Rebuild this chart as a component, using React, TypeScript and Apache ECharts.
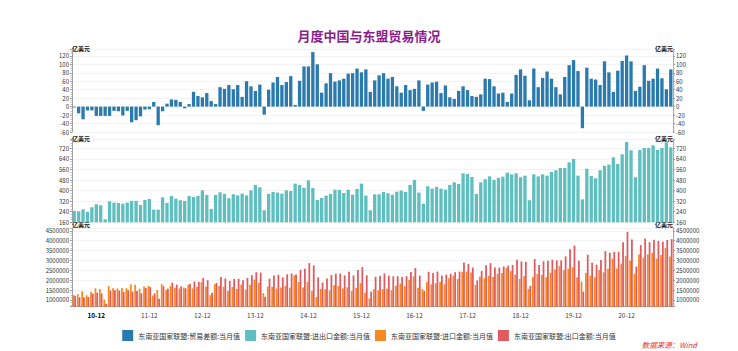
import React, { useEffect, useRef } from "react";
import * as echarts from "echarts";

// Months 2010-07 .. 2021-10 (136 months), labelled "YY-MM"
const categories: string[] = [];
for (let i = 0; i < 136; i++) {
  const y = 10 + Math.floor((6 + i) / 12);
  const m = ((6 + i) % 12) + 1;
  categories.push(`${y}-${String(m).padStart(2, "0")}`);
}

const yTicksTop = { min: -60, max: 135, interval: 20 };
const yTicksMid = { min: 160, max: 787, interval: 80 };
const yTicksBot = { min: 660000, max: 4640000, step: 500000 };

// 东南亚国家联盟:贸易差额:当月值 (亿美元)
const balance = [
  -2, -16, -30, -9, -9, -22, -22, -22, -22, -10, -11, -21, -10, -37, -32, -23, -7, -6, 11, -44,
  -11, 7, 17, 16, 11, -4, 6, 35, 25, 22, 32, 13, 6, 46, 42, 51, 41, 51, 23, 60,
  48, 37, 52, -19, 40, 57, 70, 51, 58, 72, 4, 61, 95, 95, 129, 100, 33, 55, 79, 59,
  62, 66, 78, 79, 90, 81, 88, 35, 62, 74, 79, 66, 70, 48, 33, 51, 39, 42, 62, -10,
  52, 57, 59, 32, 50, 22, 18, 37, 48, 39, 25, 23, 29, 66, 65, 48, 31, 33, 11, 31,
  75, 88, 73, 15, 90, 46, 68, 83, 66, 46, 29, 70, 98, 110, 84, -51, 92, 66, 64, 51,
  107, 81, 35, 85, 108, 121, 107, 37, 47, 98, 61, 66, 90, 67, 41, 88,
];

// 东南亚国家联盟:进出口金额:当月值 (亿美元)
const total = [
  246, 243, 258, 238, 274, 296, 289, 183, 319, 309, 306, 301, 309, 322, 322, 291, 329, 337, 256, 256,
  349, 306, 359, 339, 327, 322, 359, 352, 359, 402, 367, 261, 367, 387, 375, 342, 372, 364, 377, 364,
  402, 443, 425, 251, 375, 390, 385, 377, 402, 397, 453, 443, 422, 478, 420, 329, 344, 362, 375, 407,
  405, 382, 407, 369, 412, 453, 362, 251, 372, 372, 390, 380, 369, 392, 400, 390, 443, 481, 385, 301,
  433, 415, 428, 415, 407, 443, 463, 450, 531, 526, 503, 375, 463, 486, 508, 481, 496, 506, 536, 523,
  531, 501, 513, 327, 523, 508, 523, 513, 541, 554, 571, 571, 614, 640, 513, 334, 566, 511, 493, 554,
  587, 597, 652, 602, 675, 768, 705, 501, 708, 723, 723, 743, 708, 723, 766, 728,
];

// 东南亚国家联盟:进口金额:当月值
const importVals = [
  1240000, 1295000, 1440000, 1235000, 1415000, 1590000, 1555000, 1025000, 1705000, 1595000,
  1585000, 1610000, 1595000, 1795000, 1770000, 1570000, 1680000, 1715000, 1225000, 1500000,
  1800000, 1495000, 1710000, 1615000, 1580000, 1630000, 1765000, 1585000, 1670000, 1900000,
  1675000, 1240000, 1805000, 1705000, 1665000, 1455000, 1655000, 1565000, 1770000, 1520000,
  1770000, 2030000, 1865000, 1350000, 1675000, 1665000, 1575000, 1630000, 1720000, 1625000,
  2245000, 1910000, 1635000, 1915000, 1455000, 1145000, 1555000, 1535000, 1480000, 1740000,
  1715000, 1580000, 1645000, 1450000, 1610000, 1860000, 1370000, 1080000, 1550000, 1490000,
  1555000, 1570000, 1495000, 1720000, 1835000, 1695000, 2020000, 2195000, 1615000, 1555000,
  1905000, 1790000, 1845000, 1915000, 1785000, 2105000, 2225000, 2065000, 2415000, 2435000,
  2390000, 1760000, 2170000, 2100000, 2215000, 2165000, 2325000, 2365000, 2625000, 2460000,
  2280000, 2065000, 2200000, 1560000, 2165000, 2310000, 2275000, 2150000, 2375000, 2540000,
  2710000, 2505000, 2580000, 2650000, 2145000, 1925000, 2370000, 2225000, 2145000, 2515000,
  2400000, 2580000, 3085000, 2585000, 2835000, 3235000, 2990000, 2320000, 3305000, 3125000,
  3310000, 3385000, 3090000, 3280000, 3625000, 3200000,
];

// 东南亚国家联盟:出口金额:当月值
const exportVals = [
  1220000, 1135000, 1140000, 1145000, 1325000, 1370000, 1335000, 805000, 1485000, 1495000,
  1475000, 1400000, 1495000, 1425000, 1450000, 1340000, 1610000, 1655000, 1335000, 1060000,
  1690000, 1565000, 1880000, 1775000, 1690000, 1590000, 1825000, 1935000, 1920000, 2120000,
  1995000, 1370000, 1865000, 2165000, 2085000, 1965000, 2065000, 2075000, 2000000, 2120000,
  2250000, 2400000, 2385000, 1160000, 2075000, 2235000, 2275000, 2140000, 2300000, 2345000,
  2285000, 2520000, 2585000, 2865000, 2745000, 2145000, 1885000, 2085000, 2270000, 2330000,
  2335000, 2240000, 2425000, 2240000, 2510000, 2670000, 2250000, 1430000, 2170000, 2230000,
  2345000, 2230000, 2195000, 2200000, 2165000, 2205000, 2410000, 2615000, 2235000, 1455000,
  2425000, 2360000, 2435000, 2235000, 2285000, 2325000, 2405000, 2435000, 2895000, 2825000,
  2640000, 1990000, 2460000, 2760000, 2865000, 2645000, 2635000, 2695000, 2735000, 2770000,
  3030000, 2945000, 2930000, 1710000, 3065000, 2770000, 2955000, 2980000, 3035000, 3000000,
  3000000, 3205000, 3560000, 3750000, 2985000, 1415000, 3290000, 2885000, 2785000, 3025000,
  3470000, 3390000, 3435000, 3435000, 3915000, 4445000, 4060000, 2690000, 3775000, 4105000,
  3920000, 4045000, 3990000, 3950000, 4035000, 4080000,
];

const seriesNames = [
  "东南亚国家联盟:贸易差额:当月值",
  "东南亚国家联盟:进出口金额:当月值",
  "东南亚国家联盟:进口金额:当月值",
  "东南亚国家联盟:出口金额:当月值",
];
const colors = ["#2a7aad", "#5fbfbe", "#f7891f", "#e05a5f"];
const FONT = "'Noto Sans CJK SC', 'Noto Sans', sans-serif";

function yAxis(gridIndex: number, position: "left" | "right", extra: any) {
  return {
    type: "value",
    gridIndex,
    position,
    name: "亿美元",
    nameLocation: "end",
    nameGap: 1,
    nameTextStyle: {
      fontSize: 6,
      color: "#111",
      fontWeight: "bold",
      align: position === "left" ? "left" : "right",
      verticalAlign: "middle",
      fontFamily: FONT,
    },
    axisLine: { show: true, lineStyle: { color: "#a0a0a0", width: 1 } },
    axisTick: { show: true, length: 2, lineStyle: { color: "#a0a0a0" } },
    minorTick: { show: true, splitNumber: 4, length: 1.5, lineStyle: { color: "#c0c0c0" } },
    axisLabel: {
      fontSize: 6,
      color: "#333",
      margin: 3,
      showMaxLabel: false,
      fontFamily: FONT,
      formatter: (v: number) => String(v),
    },
    splitLine: { show: position === "left", lineStyle: { color: "#f3f3f3" } },
    ...extra,
  };
}

function xAxis(gridIndex: number, showLabels: boolean) {
  return {
    type: "category",
    gridIndex,
    data: categories,
    boundaryGap: true,
    axisLine: { show: showLabels, lineStyle: { color: "#a0a0a0" } },
    axisTick: { show: false },
    axisLabel: {
      show: showLabels,
      interval: (_i: number, v: string) => v.endsWith("-12"),
      fontSize: 6.5,
      color: "#444",
      margin: 5,
      fontFamily: FONT,
      formatter: (v: string) => (v === "10-12" ? `{b|${v}}` : v),
      rich: { b: { fontSize: 6.5, fontWeight: "bold", color: "#000", fontFamily: FONT } },
    },
    splitLine: { show: false },
  };
}

const botLabel = {
  fontSize: 6,
  color: "#333",
  margin: 3,
  showMaxLabel: false,
  showMinLabel: false,
  fontFamily: FONT,
  formatter: (v: number) => String(v),
};

export default function App() {
  const ref = useRef<HTMLDivElement>(null);
  useEffect(() => {
    document.body.style.margin = "0";
    const chart = echarts.init(ref.current!, null, { renderer: "svg" });
    chart.setOption({
      animation: false,
      backgroundColor: "#ffffff",
      textStyle: { fontFamily: FONT },
      color: colors,
      title: {
        text: "月度中国与东盟贸易情况",
        left: "center",
        top: 24,
        textStyle: { color: "#8b1d8e", fontSize: 13, fontWeight: "bold", fontFamily: FONT },
      },
      grid: [
        { left: 72, right: 65, top: 49.5, height: 82.5 },
        { left: 72, right: 65, top: 139.5, height: 82.8 },
        { left: 72, right: 65, top: 228, height: 78.7 },
      ],
      xAxis: [xAxis(0, false), xAxis(1, false), xAxis(2, true)],
      yAxis: [
        yAxis(0, "left", { ...yTicksTop }),
        yAxis(0, "right", { ...yTicksTop }),
        yAxis(1, "left", { ...yTicksMid }),
        yAxis(1, "right", { ...yTicksMid }),
        yAxis(2, "left", {
          min: yTicksBot.min,
          max: yTicksBot.max,
          minInterval: yTicksBot.step,
          maxInterval: yTicksBot.step,
          axisLabel: botLabel,
        }),
        yAxis(2, "right", {
          min: yTicksBot.min,
          max: yTicksBot.max,
          minInterval: yTicksBot.step,
          maxInterval: yTicksBot.step,
          axisLabel: botLabel,
        }),
      ],
      legend: {
        data: seriesNames,
        left: "center",
        top: 325,
        icon: "rect",
        itemWidth: 11,
        itemHeight: 11,
        itemGap: 5,
        textStyle: { fontSize: 7, color: "#333", fontFamily: FONT },
      },
      graphic: [
        {
          type: "text",
          right: 41,
          top: 341,
          style: {
            text: "数据来源：Wind",
            fill: "#e8302f",
            fontSize: 7.5,
            fontStyle: "italic",
            fontFamily: FONT,
          },
        },
      ],
      series: [
        {
          name: seriesNames[0],
          type: "bar",
          xAxisIndex: 0,
          yAxisIndex: 0,
          data: balance,
          barCategoryGap: "25%",
          itemStyle: { color: colors[0] },
        },
        {
          name: seriesNames[1],
          type: "bar",
          xAxisIndex: 1,
          yAxisIndex: 2,
          data: total,
          barCategoryGap: "25%",
          itemStyle: { color: colors[1] },
        },
        {
          name: seriesNames[2],
          type: "bar",
          xAxisIndex: 2,
          yAxisIndex: 4,
          data: importVals,
          barGap: "0%",
          barCategoryGap: "20%",
          itemStyle: { color: colors[2] },
        },
        {
          name: seriesNames[3],
          type: "bar",
          xAxisIndex: 2,
          yAxisIndex: 4,
          data: exportVals,
          barGap: "0%",
          barCategoryGap: "20%",
          itemStyle: { color: colors[3] },
        },
      ],
    });
    return () => chart.dispose();
  }, []);
  return <div ref={ref} style={{ width: 738, height: 351 }} />;
}
